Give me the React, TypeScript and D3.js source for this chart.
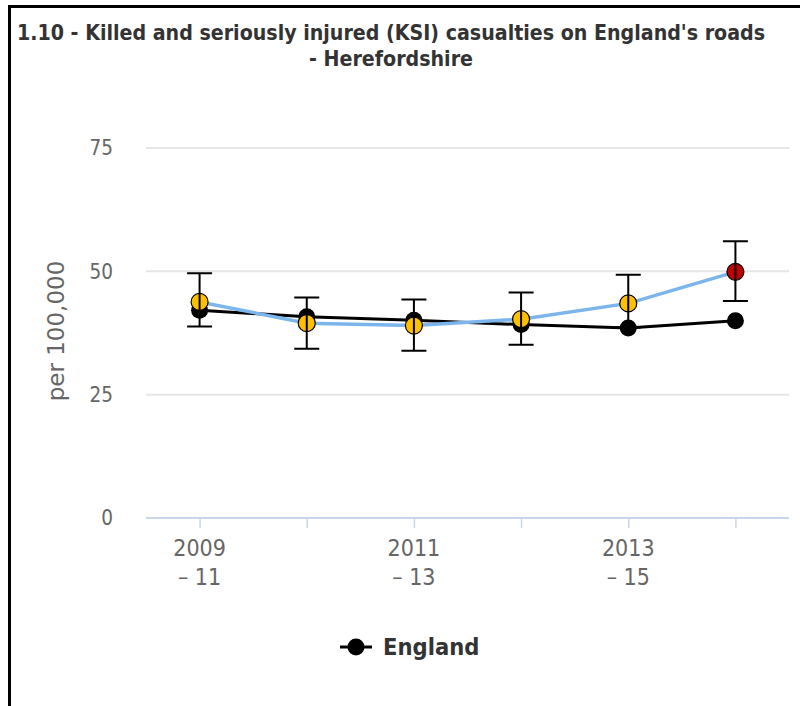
import { useRef, useEffect } from 'react'
import * as d3 from 'd3'

const categories = ['2009 - 11', '2010 - 12', '2011 - 13', '2012 - 14', '2013 - 15', '2014 - 16']
const englandValues = [42.1, 40.8, 40.1, 39.2, 38.5, 40.0]
const areaValues = [43.8, 39.5, 39.0, 40.3, 43.5, 49.9]
const areaLower = [38.8, 34.3, 33.9, 35.1, 38.6, 44.0]
const areaUpper = [49.6, 44.7, 44.3, 45.7, 49.3, 56.1]
// benchmark result per period: 'similar' (amber) or 'worse' (red)
const areaStatus = ['similar', 'similar', 'similar', 'similar', 'similar', 'worse']
const yTicks = [0, 25, 50, 75]

const WIDTH = 800
const HEIGHT = 706
const PLOT = { left: 146, right: 789, top: 148, bottom: 518 }
const FONT = '"DejaVu Sans Condensed", "DejaVu Sans", sans-serif'
const STATUS_COLOR: Record<string, string> = { similar: '#FFC000', worse: '#C00000' }

export default function App() {
  const svgRef = useRef<SVGSVGElement>(null)

  useEffect(() => {
    if (!svgRef.current) return
    const svg = d3.select(svgRef.current)
    svg.selectAll('*').remove()

    const x = d3.scalePoint<string>().domain(categories).range([PLOT.left, PLOT.right]).padding(0.5)
    const y = d3.scaleLinear().domain([0, 75]).range([PLOT.bottom, PLOT.top])

    // frame
    svg.append('path')
      .attr('d', `M9.5,${HEIGHT} V6.5 H${WIDTH}`)
      .attr('fill', 'none')
      .attr('stroke', '#000')
      .attr('stroke-width', 3)

    // title
    const title = svg.append('text')
      .attr('text-anchor', 'middle')
      .attr('fill', '#333')
      .style('font-family', FONT)
      .style('font-stretch', 'condensed')
      .style('font-weight', 'bold')
      .style('font-size', '21.2px')
    title.append('tspan').attr('x', 391).attr('y', 40)
      .text("1.10 - Killed and seriously injured (KSI) casualties on England's roads")
    title.append('tspan').attr('x', 391).attr('y', 66).text('- Herefordshire')

    // grid + y labels
    const gy = svg.append('g')
    gy.selectAll('line.grid')
      .data(yTicks.filter((t) => t > 0))
      .join('line')
      .attr('x1', PLOT.left).attr('x2', PLOT.right)
      .attr('y1', (d) => y(d)).attr('y2', (d) => y(d))
      .attr('stroke', '#e6e6e6')
      .attr('stroke-width', 2)
    gy.selectAll('text')
      .data(yTicks)
      .join('text')
      .attr('x', 113)
      .attr('y', (d) => y(d))
      .attr('dy', '0.36em')
      .attr('text-anchor', 'end')
      .attr('fill', '#666')
      .style('font-family', FONT)
      .style('font-stretch', 'condensed')
      .style('font-size', '20.5px')
      .text((d) => d)

    svg.append('text')
      .attr('transform', `translate(64,331) rotate(-90)`)
      .attr('text-anchor', 'middle')
      .attr('fill', '#666')
      .style('font-family', '"DejaVu Sans", sans-serif')
      .style('font-size', '23px')
      .text('per 100,000')

    // x axis
    const gx = svg.append('g').attr('transform', `translate(0,${PLOT.bottom})`)
    gx.call(d3.axisBottom(x).tickSize(10).tickFormat(() => ''))
    gx.select('.domain').attr('stroke', '#ccd6eb').attr('stroke-width', 2).attr('d', `M${PLOT.left},0H${PLOT.right}`)
    gx.selectAll('.tick line').attr('stroke', '#ccd6eb').attr('stroke-width', 1.5)

    const xl = svg.append('g')
      .attr('fill', '#666')
      .style('font-family', FONT)
      .style('font-stretch', 'condensed')
      .style('font-size', '23px')
      .attr('text-anchor', 'middle')
    categories.forEach((c, i) => {
      if (i % 2 !== 0) return
      const [a, b] = c.split(' - ')
      const t = xl.append('text')
      t.append('tspan').attr('x', x(c)!).attr('y', 556).text(a)
      t.append('tspan').attr('x', x(c)!).attr('y', 585).text(`– ${b}`)
    })

    // England series
    const line = d3.line<number>().x((_, i) => x(categories[i])!).y((d) => y(d))
    svg.append('path')
      .datum(englandValues)
      .attr('d', line)
      .attr('fill', 'none')
      .attr('stroke', '#000')
      .attr('stroke-width', 3)
    svg.append('g').selectAll('circle')
      .data(englandValues)
      .join('circle')
      .attr('cx', (_, i) => x(categories[i])!)
      .attr('cy', (d) => y(d))
      .attr('r', 8.5)
      .attr('fill', '#000')

    // Herefordshire series
    svg.append('path')
      .datum(areaValues)
      .attr('d', line)
      .attr('fill', 'none')
      .attr('stroke', '#7cb5ec')
      .attr('stroke-width', 3.5)
    svg.append('g').selectAll('circle')
      .data(areaValues)
      .join('circle')
      .attr('cx', (_, i) => x(categories[i])!)
      .attr('cy', (d) => y(d))
      .attr('r', 8.5)
      .attr('fill', (_, i) => STATUS_COLOR[areaStatus[i]])
      .attr('stroke', '#000')
      .attr('stroke-width', 1.2)

    // error bars
    const eb = svg.append('g').attr('stroke', '#000').attr('stroke-width', 2).attr('fill', 'none')
    categories.forEach((c, i) => {
      const cx = x(c)!
      const y0 = y(areaLower[i])
      const y1 = y(areaUpper[i])
      eb.append('path').attr('d', `M${cx},${y1}V${y0}M${cx - 12.5},${y1}H${cx + 12.5}M${cx - 12.5},${y0}H${cx + 12.5}`)
    })

    // legend
    const lg = svg.append('g').attr('transform', 'translate(340,647)')
    lg.append('line').attr('x1', 0).attr('x2', 32).attr('stroke', '#000').attr('stroke-width', 3)
    lg.append('circle').attr('cx', 16).attr('r', 8.5).attr('fill', '#000')
    lg.append('text')
      .attr('x', 43)
      .attr('dy', '0.36em')
      .attr('fill', '#333')
      .style('font-family', FONT)
      .style('font-stretch', 'condensed')
      .style('font-weight', 'bold')
      .style('font-size', '23.5px')
      .text('England')
  }, [])

  return (
    <svg
      ref={svgRef}
      width={WIDTH}
      height={HEIGHT}
      style={{ position: 'absolute', left: 0, top: 0, background: '#fff' }}
    />
  )
}
